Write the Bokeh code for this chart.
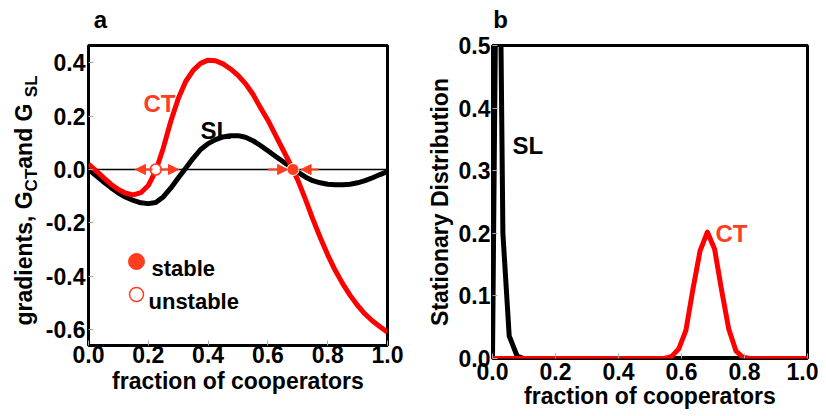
from math import pi
from bokeh.plotting import figure
from bokeh.models import Range1d, FixedTicker, Label, Arrow, NormalHead, Span, ColumnDataSource, LinearAxis
from bokeh.core.properties import value
from bokeh.layouts import row
from bokeh.embed import file_html
from bokeh.resources import INLINE

FONT = "Liberation Sans"
RED = "#ff0000"
ORANGE = "#ff3d1f"

# ---------------- panel a data: gradients ----------------
grad_x = [0.000, 0.025, 0.050, 0.075, 0.100, 0.125, 0.150, 0.175, 0.200, 0.225,
          0.250, 0.275, 0.300, 0.325, 0.350, 0.375, 0.400, 0.425, 0.450, 0.475,
          0.500, 0.525, 0.550, 0.575, 0.600, 0.625, 0.650, 0.675, 0.700, 0.725,
          0.750, 0.775, 0.800, 0.825, 0.850, 0.875, 0.900, 0.925, 0.950, 0.975, 1.000]
grad_ct = [0.020, -0.004, -0.030, -0.055, -0.075, -0.089, -0.095, -0.087, -0.060, -0.005,
           0.080, 0.180, 0.265, 0.330, 0.372, 0.398, 0.410, 0.408, 0.396, 0.377,
           0.353, 0.322, 0.282, 0.232, 0.185, 0.130, 0.075, 0.020, -0.040, -0.110,
           -0.185, -0.255, -0.320, -0.378, -0.428, -0.472, -0.510, -0.542, -0.568, -0.590, -0.610]
grad_sl = [0.000, -0.023, -0.046, -0.068, -0.088, -0.104, -0.116, -0.125, -0.128, -0.124,
           -0.103, -0.070, -0.032, 0.005, 0.042, 0.075, 0.097, 0.112, 0.122, 0.127,
           0.127, 0.121, 0.108, 0.090, 0.070, 0.050, 0.030, 0.010, -0.010, -0.028,
           -0.042, -0.050, -0.055, -0.057, -0.057, -0.055, -0.050, -0.042, -0.031, -0.019, -0.008]
stable_x = [0.684]
stable_y = [0.0]
unstable_x = [0.225]
unstable_y = [0.0]
flow_start = [0.214, 0.238, 0.599, 0.769]
flow_end = [0.157, 0.301, 0.666, 0.711]
flow_y = [0.0, 0.0, 0.0, 0.0]

# ---------------- panel b data: stationary distribution ----------------
dist_sl_x = [0.000, 0.011, 0.022, 0.033, 0.053, 0.078, 0.100, 1.000]
dist_sl_y = [0.000, 0.620, 0.750, 0.200, 0.036, 0.004, 0.000, 0.000]
dist_ct_x = [0.000, 0.545, 0.568, 0.591, 0.614, 0.636, 0.659, 0.682, 0.705, 0.727,
             0.750, 0.773, 0.795, 0.818, 1.000]
dist_ct_y = [0.000, 0.000, 0.003, 0.015, 0.045, 0.110, 0.172, 0.202, 0.175, 0.110,
             0.047, 0.012, 0.002, 0.000, 0.000]

x_ticks = [0.0, 0.2, 0.4, 0.6, 0.8, 1.0]
x_tick_labels = ["0.0", "0.2", "0.4", "0.6", "0.8", "1.0"]
a_y_ticks = [-0.6, -0.4, -0.2, 0.0, 0.2, 0.4]
a_y_tick_labels = ["-0.6", "-0.4", "-0.2", "0.0", "0.2", "0.4"]
b_y_ticks = [0.0, 0.1, 0.2, 0.3, 0.4, 0.5]
b_y_tick_labels = ["0.0", "0.1", "0.2", "0.3", "0.4", "0.5"]

# ---------------- geometry (page pixels) ----------------
A_XR = (0.0, 1.0)
A_YR = (-0.66, 0.465)
A_FW, A_FH = 299, 300
B_XR = (0.0, 1.0)
B_YR = (0.0, 0.5)
B_FW, B_FH = 315, 313
FRAME_TOP = 45
LAB_W = 40              # width of the strip holding panel a's y title
A_LEFT = 88
B_LEFT = 492
FIG_H = 408
A_BOTTOM_BORDER = FIG_H - FRAME_TOP - A_FH


def a_x(px):
    return A_XR[0] + (px - A_LEFT) * (A_XR[1] - A_XR[0]) / A_FW


def a_y(py):
    return A_YR[1] - (py - FRAME_TOP) * (A_YR[1] - A_YR[0]) / A_FH


def b_x(px):
    return B_XR[0] + (px - B_LEFT) * (B_XR[1] - B_XR[0]) / B_FW


def b_y(py):
    return B_YR[1] - (py - FRAME_TOP) * (B_YR[1] - B_YR[0]) / B_FH


EM = {"g": .611, "r": .389, "a": .556, "d": .611, "i": .278, "e": .556, "n": .611,
      "t": .333, "s": .556, ",": .278, " ": .278, "G": .778, "C": .722, "T": .611,
      "S": .667, "L": .611}


def tw(s, size):
    return sum(EM[c] for c in s) * size


def style_axis(ax, standoff):
    ax.axis_line_color = None
    ax.major_tick_out = 0
    ax.major_tick_in = 5
    ax.major_tick_line_color = "#a8a8a8"
    ax.minor_tick_line_color = None
    ax.major_label_standoff = standoff
    ax.major_label_text_font = FONT
    ax.major_label_text_font_style = "bold"
    ax.major_label_text_font_size = "23px"
    ax.major_label_text_color = "black"
    ax.axis_label_text_font = FONT
    ax.axis_label_text_font_style = "bold"
    ax.axis_label_text_font_size = "23px"
    ax.axis_label_text_color = "black"


def txt(p, x, y, s, size="23px", color="black", align="left", baseline="alphabetic"):
    p.add_layout(Label(x=x, y=y, text=s, text_font=FONT, text_font_style="bold",
                       text_font_size=size, text_color=color, text_align=align,
                       text_baseline=baseline))


def panel_letter(p, x, letter):
    # a one-tick axis above the frame carries the panel letter
    ax = LinearAxis(ticker=FixedTicker(ticks=[x]), major_label_overrides={x: letter})
    ax.axis_line_color = None
    ax.major_tick_line_color = None
    ax.minor_tick_line_color = None
    ax.major_tick_out = 0
    ax.major_tick_in = 0
    ax.major_label_standoff = 13
    ax.major_label_text_font = FONT
    ax.major_label_text_font_style = "bold"
    ax.major_label_text_font_size = "24px"
    ax.major_label_text_color = "black"
    p.add_layout(ax, "above")


# ================= strip with panel a's y title =================
# its frame spans the same page rows as panel a's frame; data y = page y measured from the bottom
lab = figure(frame_width=LAB_W, frame_height=A_FH,
             x_range=Range1d(0, LAB_W), y_range=Range1d(FIG_H - FRAME_TOP - A_FH, FIG_H - FRAME_TOP),
             min_border_left=0, min_border_right=0,
             min_border_top=FRAME_TOP, min_border_bottom=A_BOTTOM_BORDER,
             x_axis_type=None, y_axis_type=None, title=None,
             toolbar_location=None, output_backend="svg", tools="")
lab.grid.visible = False
lab.outline_line_color = None
lab.background_fill_color = "white"
lab.border_fill_color = "white"

MAIN, SUB = 23, 17
pieces = [("gradients, G", MAIN), ("CT", SUB), (" and G", MAIN), ("SL", SUB)]
total = sum(tw(s, sz) for s, sz in pieces)
start = 200 + total / 2          # page y where the title begins (bottom end)
for s, sz in pieces:
    w = tw(s, sz)
    cx = 23 if sz == MAIN else 31
    cy = FIG_H - (start - w / 2)
    lab.text(x=[cx], y=[cy], text=[s], text_font_size=value(f"{sz}px"), angle=pi / 2,
             text_font=value(FONT), text_font_style="bold", text_color="black",
             text_align="center", text_baseline="middle")
    start -= w

# ================= panel a =================
pa = figure(frame_width=A_FW, frame_height=A_FH,
            x_range=Range1d(*A_XR), y_range=Range1d(*A_YR),
            min_border_left=A_LEFT - LAB_W, min_border_right=33,
            min_border_top=FRAME_TOP, min_border_bottom=A_BOTTOM_BORDER,
            toolbar_location=None, output_backend="svg", tools="")
pa.grid.visible = False
pa.outline_line_color = "black"
pa.outline_line_width = 3
pa.background_fill_color = "white"
pa.border_fill_color = "white"

xa = pa.below[0]
xa.ticker = FixedTicker(ticks=x_ticks)
xa.major_label_overrides = dict(zip(x_ticks, x_tick_labels))
style_axis(xa, 0)
xa.axis_label = "fraction of cooperators"
xa.axis_label_standoff = 2
ya = pa.left[0]
ya.ticker = FixedTicker(ticks=a_y_ticks)
ya.major_label_overrides = dict(zip(a_y_ticks, a_y_tick_labels))
style_axis(ya, 3)
panel_letter(pa, a_x(100), "a")

pa.add_layout(Span(location=0, dimension="width", line_color="black", line_width=1.5, level="underlay"))

pa.line(grad_x, grad_sl, line_color="black", line_width=5, line_join="round")
pa.line(grad_x, grad_ct, line_color=RED, line_width=5, line_join="round")

arrows = ColumnDataSource(dict(x0=flow_start, x1=flow_end, y=flow_y))
pa.add_layout(Arrow(x_start="x0", y_start="y", x_end="x1", y_end="y", source=arrows,
                    line_color=ORANGE, line_width=2.2,
                    end=NormalHead(size=10, fill_color=ORANGE, line_color=ORANGE, line_width=1)))

pa.scatter(unstable_x, unstable_y, size=11, marker="circle", fill_color="white",
           line_color=ORANGE, line_width=1.6)
pa.scatter(stable_x, stable_y, size=12, marker="circle", fill_color=ORANGE,
           line_color="white", line_width=1)

# legend (manual)
pa.scatter([a_x(136)], [a_y(261)], size=16, marker="circle", fill_color=ORANGE, line_color=ORANGE)
pa.scatter([a_x(136)], [a_y(294)], size=14, marker="circle", fill_color="white",
           line_color=ORANGE, line_width=1.5)
txt(pa, a_x(151), a_y(268), "stable", size="22px")
txt(pa, a_x(148), a_y(301), "unstable", size="22px")

# curve labels
txt(pa, a_x(143), a_y(103), "CT", size="24px", color=ORANGE)
txt(pa, a_x(200), a_y(130), "SL", size="24px")

# ================= panel b =================
pb = figure(frame_width=B_FW, frame_height=B_FH,
            x_range=Range1d(*B_XR), y_range=Range1d(*B_YR),
            min_border_left=72, min_border_right=11, min_border_top=FRAME_TOP, min_border_bottom=56,
            toolbar_location=None, output_backend="svg", tools="")
pb.grid.visible = False
pb.outline_line_color = "black"
pb.outline_line_width = 3
pb.background_fill_color = "white"
pb.border_fill_color = "white"

xb = pb.below[0]
xb.ticker = FixedTicker(ticks=x_ticks)
xb.major_label_overrides = dict(zip(x_ticks, x_tick_labels))
style_axis(xb, 4)
xb.axis_label = "fraction of cooperators"
xb.axis_label_standoff = 0
yb = pb.left[0]
yb.ticker = FixedTicker(ticks=b_y_ticks)
yb.major_label_overrides = dict(zip(b_y_ticks, b_y_tick_labels))
style_axis(yb, 2)
yb.axis_label = "Stationary Distribution"
yb.axis_label_standoff = 3
panel_letter(pb, b_x(500), "b")

pb.line(dist_sl_x, dist_sl_y, line_color="black", line_width=5, line_join="round")
pb.line(dist_ct_x, dist_ct_y, line_color=RED, line_width=5, line_join="round")

txt(pb, b_x(512), b_y(145), "SL", size="24px")
txt(pb, b_x(715), b_y(233), "CT", size="24px", color=ORANGE)

layout = row(lab, pa, pb)
open("out.html", "w").write(file_html(layout, INLINE))
